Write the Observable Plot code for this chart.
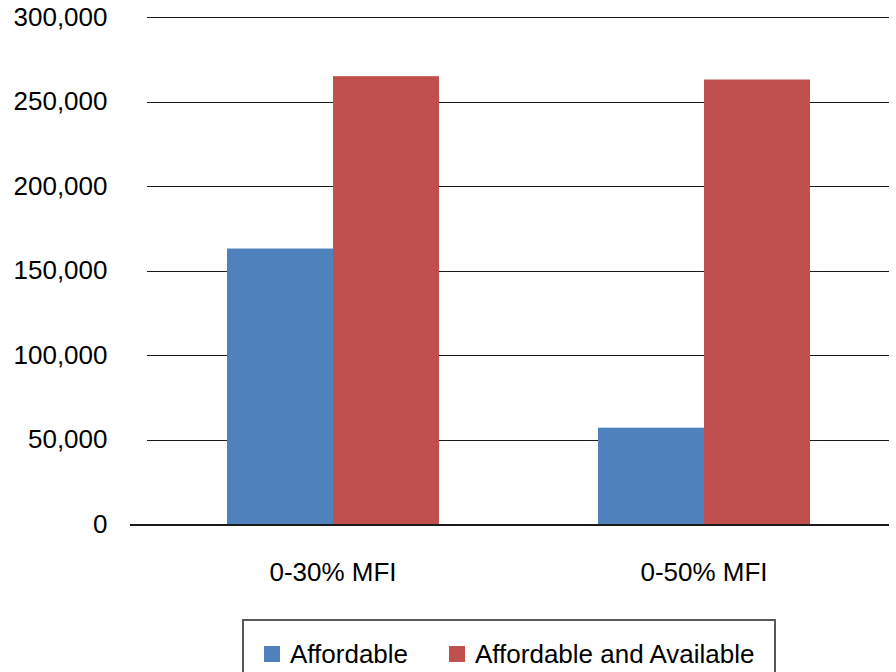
<!DOCTYPE html>
<html>
<head>
<meta charset="utf-8">
<script src="https://cdn.jsdelivr.net/npm/d3@7"></script>
<script src="https://cdn.jsdelivr.net/npm/@observablehq/plot@0.6"></script>
<style>
  html, body { margin: 0; padding: 0; background: #fff; }
  body { width: 896px; height: 672px; overflow: hidden; font-family: "Liberation Sans", Arial, sans-serif; }
  #legend {
    position: absolute; left: 242px; top: 619px; width: 534px; height: 80px;
    border: 2px solid #595959; box-sizing: border-box;
    font-size: 26px; color: #000;
  }
  .item { position: absolute; top: 18px; display: flex; align-items: center; height: 30px; }
  .sw { width: 16px; height: 16px; margin-right: 10px; }
</style>
</head>
<body>
<div id="chart"></div>
<div id="legend"></div>
<script>
const categories = ["0-30% MFI", "0-50% MFI"];
const series = ["Affordable", "Affordable and Available"];
const affordable = [163000, 57000];
const affordableAvailable = [265000, 263000];
const yTicks = [0, 50000, 100000, 150000, 200000, 250000, 300000];
const colors = ["#4F81BD", "#C0504D"];

const data = [];
categories.forEach((c, i) => {
  data.push({category: c, series: series[0], value: affordable[i]});
  data.push({category: c, series: series[1], value: affordableAvailable[i]});
});

const fmt = d3.format(",");
const chart = Plot.plot({
  width: 896, height: 610,
  marginTop: 17, marginLeft: 147, marginRight: 7, marginBottom: 86,
  style: {fontFamily: "'Liberation Sans', Arial, sans-serif", fontSize: "26px", color: "#000", background: "#fff"},
  fx: {domain: categories, padding: 0, label: null},
  x: {domain: series, paddingInner: 0, paddingOuter: 0.75, axis: null},
  y: {domain: [0, 300000], label: null},
  color: {domain: series, range: colors},
  marks: [
    Plot.gridY(yTicks, {stroke: "#1a1a1a", strokeOpacity: 1, strokeWidth: 1, shapeRendering: "crispEdges"}),
    Plot.axisY(yTicks, {tickSize: 0, tickPadding: 40, tickFormat: fmt, label: null, fontSize: 26}),
    Plot.barY(data, {fx: "category", x: "series", y: "value", fill: "series"}),
    Plot.ruleY([0], {stroke: "#1a1a1a", strokeWidth: 2, shapeRendering: "crispEdges"}),
    Plot.ruleY([{c: categories[0], v: 0}], {fx: "c", y: "v", stroke: "#1a1a1a", strokeWidth: 2, insetLeft: -17, shapeRendering: "crispEdges"}),
    Plot.axisFx({anchor: "bottom", tickSize: 0, tickPadding: 38, label: null, fontSize: 26})
  ]
});
document.getElementById("chart").appendChild(chart);

const legend = document.getElementById("legend");
const lefts = [20, 205];
series.forEach((s, i) => {
  const it = document.createElement("div");
  it.className = "item";
  it.style.left = lefts[i] + "px";
  const sw = document.createElement("div");
  sw.className = "sw";
  sw.style.background = colors[i];
  const t = document.createElement("span");
  t.textContent = s;
  it.appendChild(sw); it.appendChild(t);
  legend.appendChild(it);
});
</script>
</body>
</html>
